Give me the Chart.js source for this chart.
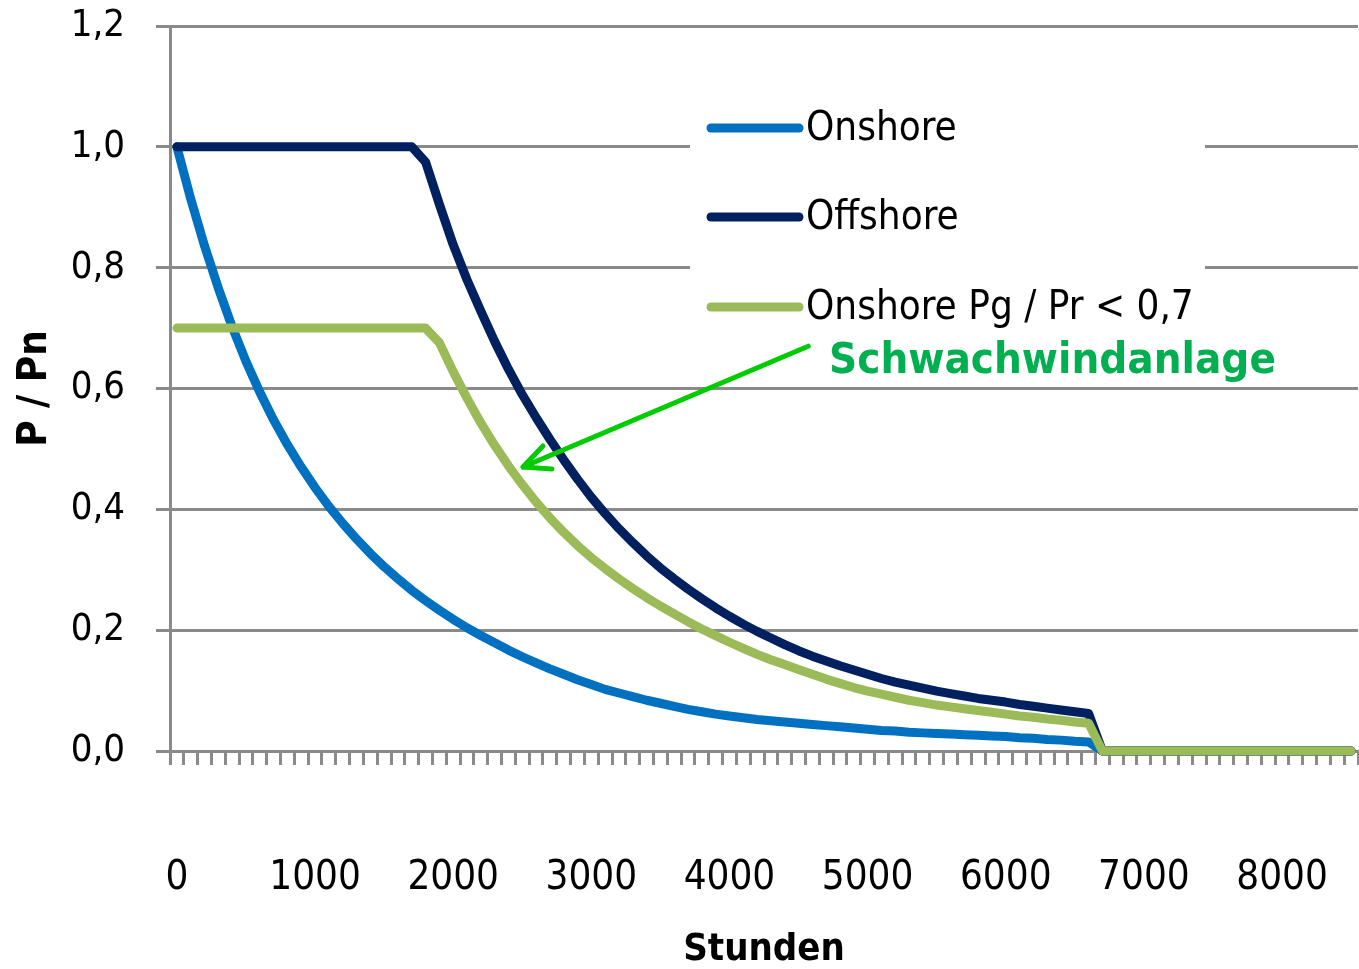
<!DOCTYPE html>
<html>
<head>
<meta charset="utf-8">
<script src="https://cdn.jsdelivr.net/npm/chart.js@4.4.1/dist/chart.umd.min.js"></script>
<style>
  html, body { margin: 0; padding: 0; background: #fff; }
  #wrap { position: relative; width: 1359px; height: 969px; }
</style>
</head>
<body>
<div id="wrap"><canvas id="chart"></canvas></div>
<script>
// Stunden (categories, 100 h steps)
const hours = [
  0, 100, 200, 300, 400, 500, 600, 700, 800, 900,
  1000, 1100, 1200, 1300, 1400, 1500, 1600, 1700, 1800, 1900,
  2000, 2100, 2200, 2300, 2400, 2500, 2600, 2700, 2800, 2900,
  3000, 3100, 3200, 3300, 3400, 3500, 3600, 3700, 3800, 3900,
  4000, 4100, 4200, 4300, 4400, 4500, 4600, 4700, 4800, 4900,
  5000, 5100, 5200, 5300, 5400, 5500, 5600, 5700, 5800, 5900,
  6000, 6100, 6200, 6300, 6400, 6500, 6600, 6700, 6800, 6900,
  7000, 7100, 7200, 7300, 7400, 7500, 7600, 7700, 7800, 7900,
  8000, 8100, 8200, 8300, 8400, 8500
];
const xTickLabels = ['0', '1000', '2000', '3000', '4000', '5000', '6000', '7000', '8000'];
const yTickLabels = ['0,0', '0,2', '0,4', '0,6', '0,8', '1,0', '1,2'];

const seriesNames = ['Onshore', 'Offshore', 'Onshore Pg / Pr < 0,7'];

const onshore = [
  1.000, 0.914, 0.836, 0.766, 0.702, 0.645, 0.594, 0.548, 0.507, 0.470,
  0.436, 0.405, 0.377, 0.351, 0.327, 0.305, 0.285, 0.266, 0.249, 0.233,
  0.218, 0.204, 0.191, 0.179, 0.167, 0.156, 0.146, 0.136, 0.127, 0.118,
  0.110, 0.102, 0.096, 0.090, 0.084, 0.079, 0.074, 0.069, 0.065, 0.061,
  0.058, 0.055, 0.052, 0.050, 0.048, 0.046, 0.044, 0.042, 0.040, 0.038,
  0.036, 0.034, 0.033, 0.031, 0.030, 0.029, 0.028, 0.027, 0.026, 0.025,
  0.024, 0.022, 0.021, 0.019, 0.018, 0.016, 0.015, 0, 0, 0,
  0, 0, 0, 0, 0, 0, 0, 0, 0, 0,
  0, 0, 0, 0, 0, 0
];
const offshore = [
  1.000, 1.000, 1.000, 1.000, 1.000, 1.000, 1.000, 1.000, 1.000, 1.000,
  1.000, 1.000, 1.000, 1.000, 1.000, 1.000, 1.000, 1.000, 0.975, 0.905,
  0.838, 0.780, 0.728, 0.678, 0.632, 0.590, 0.552, 0.516, 0.482, 0.450,
  0.420, 0.393, 0.368, 0.345, 0.323, 0.303, 0.285, 0.268, 0.252, 0.237,
  0.223, 0.210, 0.198, 0.187, 0.176, 0.166, 0.157, 0.149, 0.141, 0.134,
  0.127, 0.120, 0.114, 0.109, 0.104, 0.099, 0.095, 0.091, 0.087, 0.084,
  0.081, 0.077, 0.074, 0.071, 0.068, 0.065, 0.062, 0, 0, 0,
  0, 0, 0, 0, 0, 0, 0, 0, 0, 0,
  0, 0, 0, 0, 0, 0
];
const onshoreLowWind = [
  0.700, 0.700, 0.700, 0.700, 0.700, 0.700, 0.700, 0.700, 0.700, 0.700,
  0.700, 0.700, 0.700, 0.700, 0.700, 0.700, 0.700, 0.700, 0.700, 0.676,
  0.628, 0.584, 0.543, 0.506, 0.472, 0.441, 0.412, 0.386, 0.362, 0.340,
  0.320, 0.302, 0.285, 0.269, 0.254, 0.240, 0.227, 0.214, 0.202, 0.191,
  0.180, 0.170, 0.160, 0.151, 0.143, 0.135, 0.127, 0.119, 0.112, 0.105,
  0.099, 0.094, 0.089, 0.084, 0.080, 0.076, 0.073, 0.070, 0.067, 0.064,
  0.061, 0.058, 0.056, 0.053, 0.051, 0.048, 0.046, 0, 0, 0,
  0, 0, 0, 0, 0, 0, 0, 0, 0, 0,
  0, 0, 0, 0, 0, 0
];

// annotation: label + arrow pointing at the low wind curve (hours / value)
const noteText = 'Schwachwindanlage';
const arrowFrom = { hours: 4570, value: 0.67 };
const arrowTo = { hours: 2505, value: 0.47 };

const FONT = '"DejaVu Sans Condensed", "DejaVu Sans", sans-serif';
const GRID = '#8a8a8a';
const colors = ['#0070C0', '#002060', '#9BBB59'];

// legend box + annotation drawn on top of the plot
const overlay = {
  id: 'overlay',
  afterDatasetsDraw(chart) {
    const { ctx, scales } = chart;
    ctx.save();

    ctx.fillStyle = '#fff';
    ctx.fillRect(690, 92, 515, 242);

    const rows = [128, 217, 307];
    chart.data.datasets.forEach((ds, i) => {
      ctx.strokeStyle = ds.borderColor;
      ctx.lineWidth = 9;
      ctx.lineCap = 'round';
      ctx.beginPath();
      ctx.moveTo(711, rows[i]);
      ctx.lineTo(799, rows[i]);
      ctx.stroke();
      ctx.fillStyle = '#000';
      ctx.font = '40px ' + FONT;
      ctx.textBaseline = 'middle';
      ctx.textAlign = 'left';
      ctx.fillText(ds.label, 806, rows[i] + 2);
    });

    ctx.fillStyle = '#00B050';
    ctx.font = 'bold 43.5px ' + FONT;
    ctx.textBaseline = 'middle';
    ctx.fillText(noteText, 829, 362);

    // arrow
    const x0 = scales.x.getPixelForValue(arrowFrom.hours / 100);
    const y0 = scales.y.getPixelForValue(arrowFrom.value);
    const x1 = scales.x.getPixelForValue(arrowTo.hours / 100);
    const y1 = scales.y.getPixelForValue(arrowTo.value);
    const ang = Math.atan2(y0 - y1, x0 - x1);
    ctx.strokeStyle = '#00CC00';
    ctx.lineWidth = 5;
    ctx.lineCap = 'round';
    ctx.lineJoin = 'round';
    ctx.beginPath();
    ctx.moveTo(x0, y0);
    ctx.lineTo(x1, y1);
    ctx.moveTo(x1 + 29 * Math.cos(ang - 0.41), y1 + 29 * Math.sin(ang - 0.41));
    ctx.lineTo(x1, y1);
    ctx.lineTo(x1 + 29 * Math.cos(ang + 0.47), y1 + 29 * Math.sin(ang + 0.47));
    ctx.stroke();

    ctx.restore();
  }
};

const lineStyle = {
  borderWidth: 9,
  pointRadius: 0,
  tension: 0,
  fill: false,
  borderCapStyle: 'round',
  borderJoinStyle: 'round',
  clip: false
};

new Chart(document.getElementById('chart'), {
  type: 'line',
  data: {
    labels: hours,
    datasets: [
      { ...lineStyle, label: seriesNames[0], data: onshore, borderColor: colors[0], order: 2 },
      { ...lineStyle, label: seriesNames[1], data: offshore, borderColor: colors[1], order: 1 },
      { ...lineStyle, label: seriesNames[2], data: onshoreLowWind, borderColor: colors[2], order: 0 }
    ]
  },
  options: {
    responsive: true,
    maintainAspectRatio: false,
    animation: false,
    devicePixelRatio: 1,
    layout: { padding: { top: 26, right: 1, left: 0, bottom: 0 } },
    plugins: {
      legend: { display: false },
      tooltip: { enabled: false }
    },
    scales: {
      x: {
        type: 'category',
        offset: true,
        grid: { offset: true, drawOnChartArea: false, drawTicks: true, tickLength: 14, color: GRID, lineWidth: 3 },
        border: { display: true, color: GRID, width: 3 },
        ticks: {
          autoSkip: false,
          maxRotation: 0,
          minRotation: 0,
          padding: 94,
          color: '#000',
          font: { family: FONT, size: 40, lineHeight: 1 },
          callback: (v, i) => (i % 10 === 0 ? xTickLabels[i / 10] : '')
        },
        title: {
          display: true,
          text: 'Stunden',
          color: '#000',
          font: { family: FONT, size: 38, weight: 'bold', lineHeight: 1 },
          padding: 0
        },
        afterFit: (s) => {
          s.height = 218;
          s.paddingLeft = 0;
          s.paddingRight = 0;
        }
      },
      y: {
        min: 0,
        max: 1.2,
        grid: { color: GRID, lineWidth: 3, tickLength: 14 },
        border: { display: true, color: GRID, width: 3 },
        ticks: {
          stepSize: 0.2,
          padding: 31,
          color: '#000',
          font: { family: FONT, size: 38, lineHeight: 1 },
          callback: (v, i) => yTickLabels[i]
        },
        title: {
          display: true,
          text: 'P / Pn',
          color: '#000',
          font: { family: FONT, size: 40, weight: 'bold', lineHeight: 1.2 },
          padding: { top: 12, bottom: 0 }
        },
        afterFit: (s) => {
          s.width = 170;
          s.paddingTop = 0;
          s.paddingBottom = 0;
        }
      }
    }
  },
  plugins: [overlay]
});
</script>
</body>
</html>
